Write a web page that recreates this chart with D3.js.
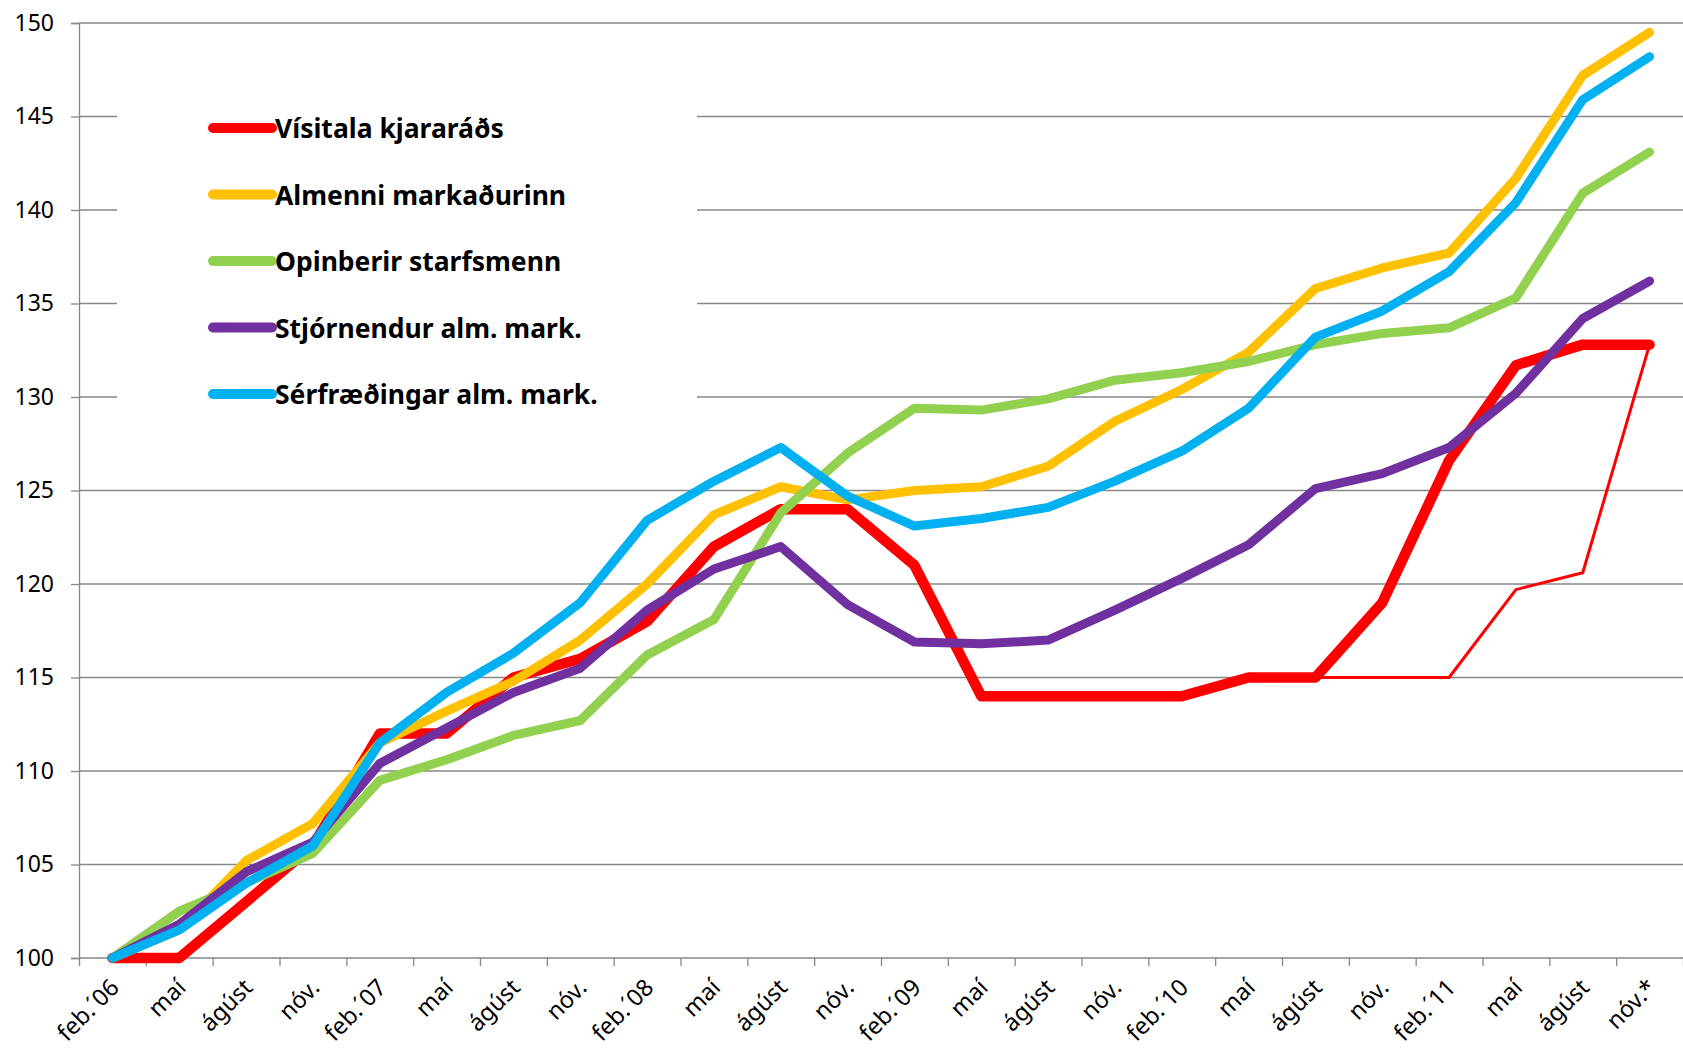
<!DOCTYPE html>
<html>
<head>
<meta charset="utf-8">
<script src="https://cdn.jsdelivr.net/npm/d3@7"></script>
<style>
  body { margin: 0; background: #fff; }
  svg { display: block; }
  text { font-family: "Noto Sans", "Open Sans", sans-serif; fill: #000; }
</style>
</head>
<body>
<div id="chart"></div>
<script>
// categories on the x axis
const months = ["feb.´06", "maí", "ágúst", "nóv.", "feb.´07", "maí", "ágúst", "nóv.",
    "feb.´08", "maí", "ágúst", "nóv.", "feb.´09", "maí", "ágúst", "nóv.",
    "feb.´10", "maí", "ágúst", "nóv.", "feb.´11", "maí", "ágúst", "nóv.*"]

const yTicks = [100, 105, 110, 115, 120, 125, 130, 135, 140, 145, 150]

// series values
const visitala = [100, 100, 103, 106, 112, 112, 115, 116, 118, 122, 124, 124,
    121, 114, 114, 114, 114, 115, 115, 119, 126.6, 131.7, 132.8, 132.8]
// thin red line, splits off from the thick one at ágúst ´10
const visitalaThin = [null, null, null, null, null, null, null, null, null, null, null, null,
    null, null, null, null, null, null, 115, 115, 115, 119.7, 120.6, 132.8]
const almenni = [100, 101.5, 105.2, 107.2, 111.5, 113.2, 114.8, 117, 120, 123.7, 125.2, 124.5,
    125, 125.2, 126.3, 128.7, 130.4, 132.4, 135.8, 136.9, 137.7, 141.7, 147.2, 149.5]
const opinberir = [100, 102.5, 104, 105.6, 109.5, 110.6, 111.9, 112.7, 116.2, 118.1, 123.8, 127,
    129.4, 129.3, 129.9, 130.9, 131.3, 131.9, 132.8, 133.4, 133.7, 135.3, 140.9, 143.1]
const stjornendur = [100, 101.8, 104.6, 106.2, 110.4, 112.3, 114.2, 115.5, 118.6, 120.8, 122, 118.9,
    116.9, 116.8, 117, 118.6, 120.3, 122.1, 125.1, 125.9, 127.3, 130.2, 134.2, 136.2]
const serfraedingar = [100, 101.5, 104, 106, 111.5, 114.2, 116.3, 119, 123.4, 125.5, 127.3, 124.7,
    123.1, 123.5, 124.1, 125.5, 127.1, 129.4, 133.2, 134.6, 136.7, 140.4, 145.9, 148.2]

const seriesNames = ["Vísitala kjararáðs", "Almenni markaðurinn", "Opinberir starfsmenn",
    "Stjórnendur alm. mark.", "Sérfræðingar alm. mark."]
const seriesColors = ["#ff0000", "#ffc000", "#92d050", "#7030a0", "#00b0f0"]

const width = 1683, height = 1048
const margin = {top: 23, right: 0, bottom: 90, left: 79}

const svg = d3.select("#chart")
    .append("svg")
    .attr("width", width)
    .attr("height", height)

let x = d3.scaleBand()
    .domain(d3.range(months.length))
    .range([margin.left, width - margin.right])
    .padding(0)
let xTickScale = d3.scaleLinear()
    .domain([0, months.length])
    .range([margin.left, width - margin.right])
let y = d3.scaleLinear()
    .domain([100, 150])
    .range([height - margin.bottom, margin.top])

const axisColor = "#878787"

// horizontal gridlines
svg.append("g")
    .selectAll("line")
    .data(yTicks)
    .enter()
    .append("line")
    .attr("x1", margin.left)
    .attr("x2", width - margin.right)
    .attr("y1", d => y(d))
    .attr("y2", d => y(d))
    .attr("stroke", axisColor)
    .attr("stroke-width", 1.3)

// y axis
const yAxis = svg.append("g")
    .attr("transform", "translate(" + margin.left + ",0)")
    .call(d3.axisLeft(y).tickValues(yTicks).tickSize(8).tickPadding(17))
yAxis.select(".domain").attr("stroke", axisColor).attr("stroke-width", 1.3)
yAxis.selectAll(".tick line").attr("stroke", axisColor).attr("stroke-width", 1.3)
yAxis.selectAll(".tick text")
    .style("font-family", "'Noto Sans', sans-serif")
    .style("font-size", "23px")
    .attr("fill", "#000")

// x axis, tick marks between categories
const xAxis = svg.append("g")
    .attr("transform", "translate(0," + y(100) + ")")
    .call(d3.axisBottom(xTickScale).ticks(months.length).tickSize(8).tickFormat(""))
xAxis.select(".domain").remove()
xAxis.selectAll(".tick line").attr("stroke", axisColor).attr("stroke-width", 1.3)

svg.append("g")
    .selectAll("text")
    .data(months)
    .enter()
    .append("text")
    .attr("text-anchor", "end")
    .attr("transform", (d, i) => "translate(" + (x(i) + x.bandwidth() / 2 + 8) + "," + (y(100) + 31) + ") rotate(-45)")
    .style("font-size", "23.5px")
    .text(d => d)

// legend box covers the gridlines behind it
svg.append("rect")
    .attr("x", 117)
    .attr("y", 80)
    .attr("width", 580)
    .attr("height", 360)
    .attr("fill", "#fff")

// lines
let line = d3.line()
    .defined(d => d != null)
    .x((d, i) => x(i) + x.bandwidth() / 2)
    .y(d => y(d))

const allSeries = [visitala, almenni, opinberir, stjornendur, serfraedingar]

svg.append("path")
    .datum(visitalaThin)
    .attr("d", line)
    .attr("fill", "none")
    .attr("stroke", seriesColors[0])
    .attr("stroke-width", 3)
    .attr("stroke-linejoin", "round")

svg.append("g")
    .selectAll("path")
    .data(allSeries)
    .enter()
    .append("path")
    .attr("d", line)
    .attr("fill", "none")
    .attr("stroke", (d, i) => seriesColors[i])
    .attr("stroke-width", (d, i) => i == 0 ? 10.5 : 9)
    .attr("stroke-linejoin", "round")
    .attr("stroke-linecap", "round")

// legend
const legend = svg.append("g")
    .selectAll("g")
    .data(seriesNames)
    .enter()
    .append("g")
    .attr("transform", (d, i) => "translate(0," + (128 + i * 66.5) + ")")

legend.append("line")
    .attr("x1", 213)
    .attr("x2", 272)
    .attr("stroke", (d, i) => seriesColors[i])
    .attr("stroke-width", 10)
    .attr("stroke-linecap", "round")

legend.append("text")
    .attr("x", 275)
    .attr("y", 10)
    .style("font-size", "26.5px")
    .style("font-weight", "bold")
    .text(d => d)
</script>
</body>
</html>
